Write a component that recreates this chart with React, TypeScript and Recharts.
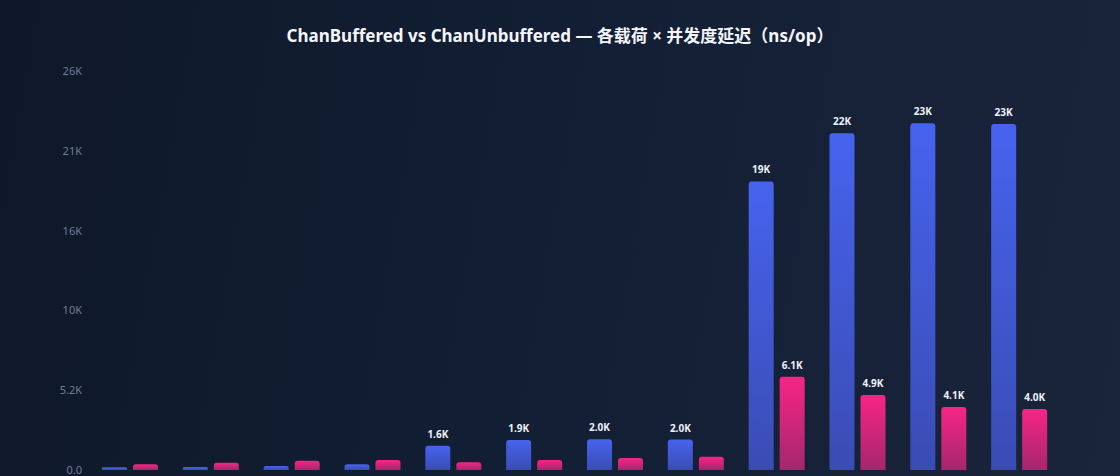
import { Bar, BarChart, LabelList, XAxis, YAxis } from "recharts";

// 3 payload sizes x 4 concurrency levels (x labels fall below the visible frame)
const categories = [
  "S/1", "S/4", "S/16", "S/64",
  "M/1", "M/4", "M/16", "M/64",
  "L/1", "L/4", "L/16", "L/64",
];
const bufferedNs = [175, 195, 260, 370, 1580, 1950, 2000, 1980, 18800, 21950, 22600, 22550];
const unbufferedNs = [370, 475, 605, 650, 500, 650, 780, 865, 6070, 4880, 4100, 3980];
const yTicks = [0, 5200, 10400, 15600, 20800, 26000];

const COLOR_TITLE = "#f3f5fb";
const COLOR_TICK = "#6f7d93";

const rows = categories.map((c, i) => ({
  name: c,
  buffered: bufferedNs[i],
  unbuffered: unbufferedNs[i],
}));

function fmtK(v: number) {
  if (v >= 10000) return `${(v / 1000).toFixed(0)}K`;
  if (v >= 1000) return `${(v / 1000).toFixed(1)}K`;
  return v.toFixed(1);
}

// only label the bars tall enough to read
function TopLabel(props: any) {
  const { x, y, width, value } = props;
  if (value == null || value < 1000) return null;
  return (
    <text
      x={x + width / 2}
      y={y - 8}
      textAnchor="middle"
      fill="#eef1f8"
      fontSize={10}
      fontWeight={700}
      fontFamily="'Noto Sans', 'DejaVu Sans', sans-serif"
    >
      {fmtK(value)}
    </text>
  );
}

export default function App() {
  return (
    <div
      style={{
        position: "fixed",
        left: 0,
        top: 0,
        width: 1120,
        height: 476,
        overflow: "hidden",
        background: "linear-gradient(100deg, #0e1829 0%, #121e33 45%, #1a253c 100%)",
        fontFamily: "'Noto Sans', 'Noto Sans CJK SC', sans-serif",
      }}
    >
      <div
        style={{
          position: "absolute",
          top: 24,
          left: 0,
          width: 1120,
          textAlign: "center",
          color: COLOR_TITLE,
          fontSize: 17,
          fontWeight: 700,
          lineHeight: "24px",
          fontFamily: "'Noto Sans', 'Noto Sans CJK SC', sans-serif",
        }}
      >
        ChanBuffered vs ChanUnbuffered — 各载荷 × 并发度延迟（ns/op）
      </div>
      <BarChart
        width={1120}
        height={476}
        data={rows}
        margin={{ top: 71, right: 60, bottom: 6, left: 0 }}
        barSize={25}
        barGap={6}
        style={{ position: "absolute", left: 0, top: 0 }}
      >
        <defs>
          <linearGradient id="gBlue" x1="0" y1="0" x2="0" y2="1">
            <stop offset="0%" stopColor="#4763ee" />
            <stop offset="100%" stopColor="#3a4cb4" />
          </linearGradient>
          <linearGradient id="gPink" x1="0" y1="0" x2="0" y2="1">
            <stop offset="0%" stopColor="#f72585" />
            <stop offset="100%" stopColor="#a4276e" />
          </linearGradient>
        </defs>
        <XAxis dataKey="name" hide />
        <YAxis
          width={90}
          domain={[0, 26000]}
          ticks={yTicks}
          tickFormatter={fmtK}
          axisLine={false}
          tickLine={false}
          tick={{ fill: COLOR_TICK, fontSize: 11, fontFamily: "'Noto Sans', sans-serif" }}
        />
        <Bar dataKey="buffered" fill="url(#gBlue)" radius={[3, 3, 0, 0]} isAnimationActive={false}>
          <LabelList dataKey="buffered" content={TopLabel} />
        </Bar>
        <Bar dataKey="unbuffered" fill="url(#gPink)" radius={[3, 3, 0, 0]} isAnimationActive={false}>
          <LabelList dataKey="unbuffered" content={TopLabel} />
        </Bar>
      </BarChart>
    </div>
  );
}
